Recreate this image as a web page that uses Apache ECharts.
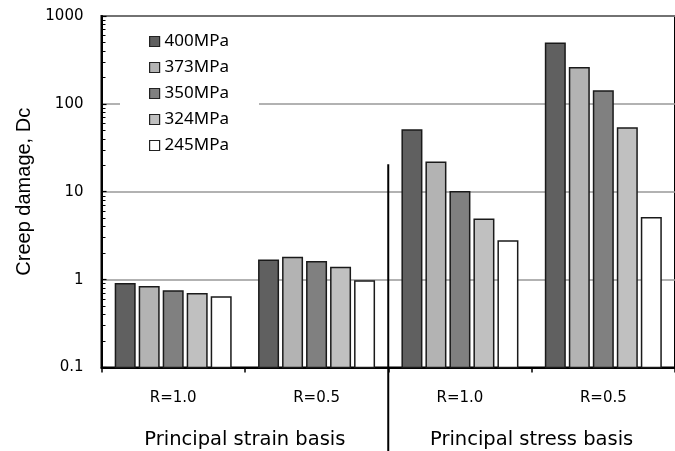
<!DOCTYPE html>
<html>
<head>
<meta charset="utf-8">
<script src="https://cdn.jsdelivr.net/npm/echarts@6/dist/echarts.min.js"></script>
<style>
html,body{margin:0;padding:0;background:#fff;}
#c{width:675px;height:451px;}
</style>
</head>
<body>
<div id="c"></div>
<script>
// ---- data ----
const categories = ['R=1.0', 'R=0.5', 'R=1.0 ', 'R=0.5 '];
const categoryLabels = ['R=1.0', 'R=0.5', 'R=1.0', 'R=0.5'];
const groups = ['Principal strain basis', 'Principal stress basis'];
const seriesNames = ['400MPa', '373MPa', '350MPa', '324MPa', '245MPa'];
const s400 = [0.90, 1.66, 50.4, 490];
const s373 = [0.83, 1.79, 21.6, 258];
const s350 = [0.74, 1.60, 10.0, 140];
const s324 = [0.69, 1.37, 4.86, 53.2];
const s245 = [0.635, 0.966, 2.76, 5.06];
const yMin = 0.1, yMax = 1000;
const yMinorTicks = [0.2,0.3,0.4,0.5,0.6,0.7,0.8,0.9,2,3,4,5,6,7,8,9,20,30,40,50,60,70,80,90,200,300,400,500,600,700,800,900];
const separatorTopValue = 20.5;

// ---- style ----
const colors = ['#606060', '#b3b3b3', '#808080', '#c0c0c0', '#ffffff'];
const allSeries = [s400, s373, s350, s324, s245];
const barW = 19.5, barStep = 24;

const chart = echarts.init(document.getElementById('c'), null, {renderer: 'canvas'});
const labelFont = 'DejaVu Sans';

function makeRender(k, n) {
  return function (params, api) {
    const ci = api.value(0);
    const top = api.coord([ci, api.value(1)]);
    const base = api.coord([ci, yMin]);
    const off = (k - (n - 1) / 2) * barStep;
    return {
      type: 'rect',
      shape: {x: top[0] + off - barW / 2, y: top[1], width: barW, height: base[1] - top[1]},
      style: {fill: colors[k], stroke: '#1a1a1a', lineWidth: 1.5}
    };
  };
}

const option = {
  animation: false,
  backgroundColor: '#fff',
  grid: {
    left: 101.5, right: -8, top: 16, bottom: 83.5,
    show: true, borderColor: '#000', borderWidth: 2, backgroundColor: 'transparent'
  },
  legend: {
    orient: 'vertical',
    left: 120, top: 23,
    padding: [10, 30, 6, 29],
    backgroundColor: '#fff',
    itemWidth: 10, itemHeight: 10, itemGap: 9,
    icon: 'rect',
    itemStyle: {borderColor: '#222', borderWidth: 1.2},
    textStyle: {fontFamily: 'Noto Sans', fontSize: 17, color: '#000'},
    data: seriesNames
  },
  xAxis: [
    {
      type: 'category', data: categories, position: 'bottom',
      axisLine: {onZero: false, lineStyle: {color: '#000', width: 2}},
      axisTick: {show: true, length: 5, lineStyle: {color: '#000', width: 1.5}},
      axisLabel: {
        margin: 23.5, fontFamily: labelFont, fontSize: 15, color: '#000',
        formatter: (v, i) => categoryLabels[i]
      },
      splitLine: {show: false}
    },
    {
      type: 'category', data: groups, position: 'bottom',
      axisLine: {show: false, onZero: false}, axisTick: {show: false},
      axisLabel: {margin: 62, fontFamily: labelFont, fontSize: 19.5, color: '#000'},
      splitLine: {show: false}
    }
  ],
  yAxis: [
    {
      type: 'log', logBase: 10, min: yMin, max: yMax,
      name: 'Creep damage, Dc', nameLocation: 'middle', nameGap: 66,
      nameTextStyle: {fontFamily: 'Liberation Sans', fontSize: 20, color: '#000'},
      axisLine: {show: true, onZero: false, lineStyle: {color: '#000', width: 2}},
      axisTick: {show: true, inside: true, length: 5, lineStyle: {color: '#000', width: 1.2}},
      axisLabel: {
        margin: 18, fontFamily: labelFont, fontSize: 15, color: '#000',
        formatter: v => String(v)
      },
      splitLine: {show: true, lineStyle: {color: '#999', width: 1.6}}
    },
    {
      // minor ticks placed on log positions
      type: 'value', min: Math.log10(yMin), max: Math.log10(yMax), position: 'left',
      axisLine: {show: false, onZero: false}, axisLabel: {show: false}, splitLine: {show: false},
      axisTick: {show: true, inside: true, length: 4,
        customValues: yMinorTicks.map(v => Math.log10(v)),
        lineStyle: {color: '#000', width: 1}}
    }
  ],
  series: allSeries.map((d, k) => ({
    name: seriesNames[k],
    type: 'custom',
    xAxisIndex: 0, yAxisIndex: 0,
    data: d.map((v, i) => [i, v]),
    encode: {x: 0, y: 1},
    renderItem: makeRender(k, allSeries.length),
    itemStyle: {color: colors[k], borderColor: '#1a1a1a', borderWidth: 1.5},
    emphasis: {disabled: true},
    z: 3
  }))
};
chart.setOption(option);

// separator between the two groups (boundary between category 2 and 3)
const xa = chart.convertToPixel({xAxisIndex: 0}, categories[1]);
const xb = chart.convertToPixel({xAxisIndex: 0}, categories[2]);
const xSep = (xa + xb) / 2;
const yTop = chart.convertToPixel({yAxisIndex: 0}, separatorTopValue);
chart.setOption({
  graphic: [{
    type: 'line', z: 100,
    shape: {x1: xSep, y1: yTop, x2: xSep, y2: chart.getHeight()},
    style: {stroke: '#000', lineWidth: 2}
  }]
});
</script>
</body>
</html>
